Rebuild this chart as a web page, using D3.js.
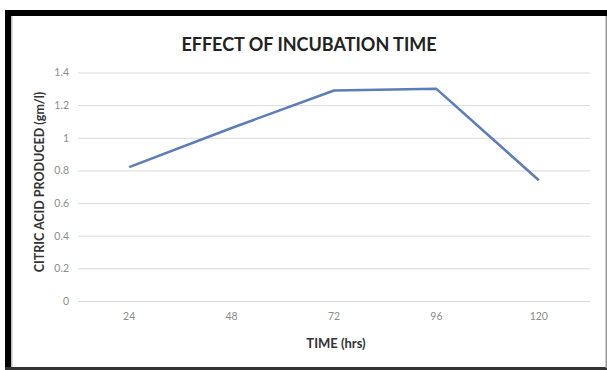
<!DOCTYPE html>
<html><head><meta charset="utf-8">
<script src="https://cdn.jsdelivr.net/npm/d3@7"></script>
<style>html,body{margin:0;padding:0;background:#fff;}svg{display:block;}</style>
</head><body>
<svg id="c" width="607" height="370"></svg>
<script>
const categories = ["24", "48", "72", "96", "120"];
const values = [0.82, 1.06, 1.29, 1.30, 0.74];
const yTicks = [0, 0.2, 0.4, 0.6, 0.8, 1, 1.2, 1.4];
const title = "EFFECT OF INCUBATION TIME";
const xTitle = "TIME (hrs)";
const yTitle = "CITRIC ACID PRODUCED (gm/l)";

(function () {
const svg = d3.select("#c");
// frame
svg.append("rect").attr("x", 0).attr("y", 0).attr("width", 607).attr("height", 370).attr("fill", "#fff");
svg.append("rect").attr("x", 5).attr("y", 10).attr("width", 602).attr("height", 6).attr("fill", "#000");
svg.append("rect").attr("x", 5).attr("y", 10).attr("width", 6).attr("height", 360).attr("fill", "#000");
svg.append("rect").attr("x", 11).attr("y", 16).attr("width", 1.5).attr("height", 352).attr("fill", "#bbb");
svg.append("rect").attr("x", 5).attr("y", 367).attr("width", 602).attr("height", 3).attr("fill", "#333");
svg.append("rect").attr("x", 605.5).attr("y", 16).attr("width", 1.5).attr("height", 352).attr("fill", "#999");

const pLeft = 78, pRight = 590, pTop = 72.5, pBottom = 301;
const x = d3.scaleBand().domain(categories).range([pLeft, pRight]);
const y = d3.scaleLinear().domain([0, 1.4]).range([pBottom, pTop]);

const yAxis = d3.axisLeft(y).tickValues(yTicks).tickSize(-(pRight - pLeft)).tickFormat(d3.format("~g"));
const gy = svg.append("g").attr("transform", `translate(${pLeft},0)`).call(yAxis);
gy.select(".domain").remove();
gy.selectAll(".tick line").attr("stroke", "#d9d9d9").attr("stroke-width", 1);
gy.selectAll(".tick text").attr("x", -9).attr("fill", "#8c8c8c")
  .style("font-family", "Lato, 'Open Sans', sans-serif").style("font-size", "10.5px");

const xAxis = d3.axisBottom(x).tickSize(0);
const gx = svg.append("g").attr("transform", `translate(0,${pBottom})`).call(xAxis);
gx.select(".domain").attr("stroke", "#d9d9d9");
gx.selectAll(".tick text").attr("dy", "1.5em").attr("fill", "#8c8c8c")
  .style("font-family", "Lato, 'Open Sans', sans-serif").style("font-size", "10.5px");

const line = d3.line().x((d, i) => x(categories[i]) + x.bandwidth() / 2).y(d => y(d));
svg.append("path").datum(values).attr("d", line).attr("fill", "none")
  .attr("stroke", "#5b7db8").attr("stroke-width", 2.5).attr("stroke-linejoin", "round");

svg.append("text").attr("x", 309).attr("y", 51).attr("text-anchor", "middle")
  .style("font-family", "Lato, sans-serif").style("font-weight", "bold").style("font-size", "18px")
  .attr("fill", "#222").text(title);
svg.append("text").attr("x", 336).attr("y", 348).attr("text-anchor", "middle")
  .style("font-family", "Lato, sans-serif").style("font-weight", "bold").style("font-size", "13px")
  .attr("fill", "#333").text(xTitle);
svg.append("text").attr("transform", "translate(44,182) rotate(-90)").attr("text-anchor", "middle")
  .style("font-family", "Lato, sans-serif").style("font-weight", "bold").style("font-size", "12.5px")
  .attr("fill", "#333").text(yTitle);
})();
</script>
</body></html>
